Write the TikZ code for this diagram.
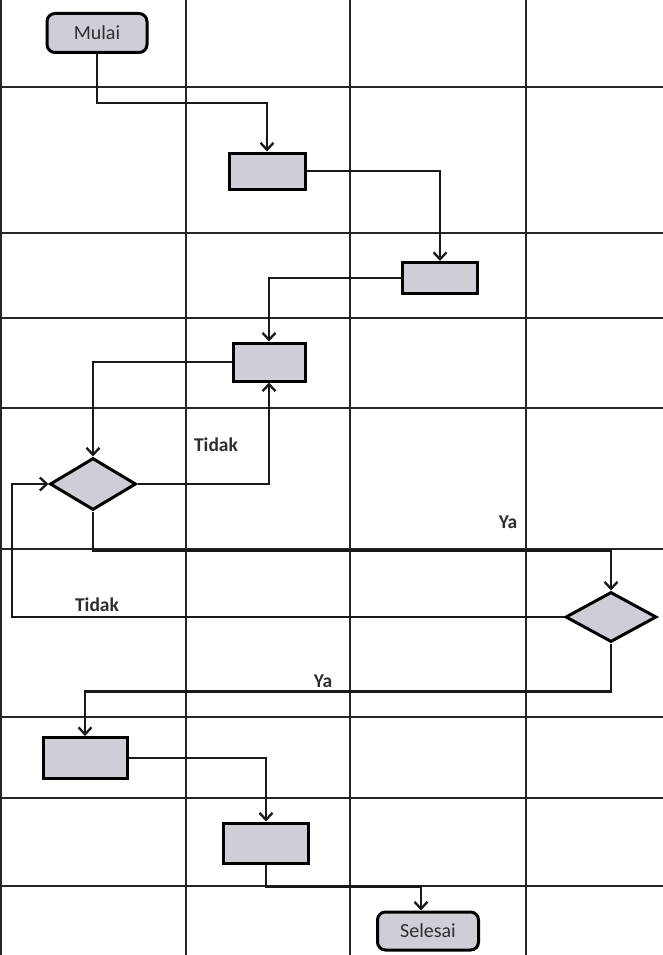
\documentclass[tikz,border=0pt]{standalone}
\usepackage{fontspec}
\setmainfont{Carlito}
\usetikzlibrary{shapes.geometric,arrows.meta,shadows}
\definecolor{boxgray}{RGB}{206,207,214}
\definecolor{inkgray}{RGB}{45,45,50}

\begin{document}
\begin{tikzpicture}[x=1pt,y=-1pt,
	grid/.style={line width=1.8pt,black!85},
	flow/.style={line width=2.5pt,black!90},
	arr/.style={flow,-{Straight Barb[length=7pt,width=13pt,line width=2.3pt]}},
	proc/.style={draw,line width=3pt,fill=boxgray,minimum width=#1,inner sep=0pt,
		drop shadow={opacity=0.3,shadow xshift=1pt,shadow yshift=-1pt}},
	term/.style={proc=#1,rounded corners=8pt,text=inkgray,font=\fontsize{20}{24}\selectfont},
	cond/.style={draw,line width=3pt,fill=boxgray,diamond,inner sep=0pt},
	lbl/.style={font=\bfseries\fontsize{19.5}{23}\selectfont,text=inkgray}]
	\useasboundingbox (0,0) rectangle (663,955);
	% lanes
	\foreach \x in {1,186,350,526}
		\draw[grid] (\x,0) -- (\x,955);
	\foreach \y in {87,233,318,408,549,717,798,886}
		\draw[grid] (0,\y) -- (663,\y);
	% steps
	\node[term=100pt,minimum height=39pt] (mulai) at (97,33) {Mulai};
	\node[proc=76pt,minimum height=36pt] (p1) at (267,171) {};
	\node[proc=75pt,minimum height=31pt] (p2) at (440,278) {};
	\node[proc=72pt,minimum height=38pt] (p3) at (269,362) {};
	\node[cond,minimum width=86pt,minimum height=52pt] (d1) at (93,484) {};
	\node[cond,minimum width=91pt,minimum height=50pt] (d2) at (611,617) {};
	\node[proc=84pt,minimum height=41pt] (p4) at (85,758) {};
	\node[proc=85pt,minimum height=40pt] (p5) at (266,843) {};
	\node[term=101pt,minimum height=38pt] (selesai) at (428,931) {Selesai};
	% connectors
	\draw[arr] (mulai.south) -- ++(0,49) -| (p1.north);
	\draw[arr] (p1.east) -| (p2.north);
	\draw[arr] (p2.west) -| (p3.north);
	\draw[arr] (p3.west) -| (d1.north);
	\draw[arr] (d1.east) -| (p3.south);
	\draw[arr] (d1.south) -- ++(0,39) -| (d2.north);
	\draw[arr] (d2.west) -- ++(-552,0) |- (d1.west);
	\draw[arr] (d2.south) -- ++(0,48) -| (p4.north);
	\draw[arr] (p4.east) -| (p5.north);
	\draw[arr] (p5.south) -- ++(0,22) -| ([xshift=-7pt]selesai.north);
	% labels
	\node[lbl] (tidak1) at (216,445) {Tidak};
	\node[lbl] (ya1) at (508,522) {Ya};
	\node[lbl] (tidak2) at (97,605) {Tidak};
	\node[lbl] (ya2) at (323,681) {Ya};
\end{tikzpicture}
\end{document}
